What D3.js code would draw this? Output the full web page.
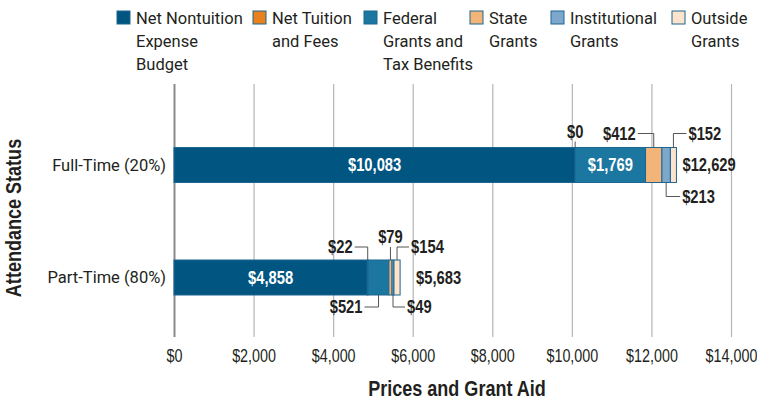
<!DOCTYPE html>
<html>
<head>
<meta charset="utf-8">
<script src="https://cdn.jsdelivr.net/npm/d3@7"></script>
<style>
  body { margin: 0; background: #fff; }
</style>
</head>
<body>
<div id="chart"></div>
<script>
// data
const categories = ["Full-Time (20%)", "Part-Time (80%)"];
const seriesNames = ["Net Nontuition Expense Budget", "Net Tuition and Fees", "Federal Grants and Tax Benefits",
                     "State Grants", "Institutional Grants", "Outside Grants"];
const netNontuition = [10083, 4858];
const netTuition = [0, 22];
const federalGrants = [1769, 521];
const stateGrants = [412, 79];
const institutionalGrants = [213, 49];
const outsideGrants = [152, 154];
const totals = [12629, 5683];
const xTicks = [0, 2000, 4000, 6000, 8000, 10000, 12000, 14000];
const legendLines = [
    ["Net Nontuition", "Expense", "Budget"],
    ["Net Tuition", "and Fees"],
    ["Federal", "Grants and", "Tax Benefits"],
    ["State", "Grants"],
    ["Institutional", "Grants"],
    ["Outside", "Grants"]
];

const width = 757, height = 402;
const colors = ["#005581", "#e8821e", "#1b76a0", "#f3b47a", "#7ea8cb", "#fce3cb"];
const segStroke = "#1d6690";
const numFont = "'Liberation Sans', Arial, sans-serif";
const wordFont = "Roboto, 'DejaVu Sans', sans-serif";
const squeeze = 0.82; // no narrow face installed, so squeeze the regular one

const plotTop = 84, plotBottom = 337;
const barH = 35;

const svg = d3.select("#chart").append("svg")
    .attr("width", width)
    .attr("height", height)
    .attr("viewBox", `0 0 ${width} ${height}`);

const x = d3.scaleLinear().domain([0, 14000]).range([174, 731]);
const y = d3.scalePoint().domain(categories).range([165, 277.5]);

const seriesData = [netNontuition, netTuition, federalGrants, stateGrants, institutionalGrants, outsideGrants];
const rows = categories.map((c, i) => {
    const r = { cat: c };
    seriesNames.forEach((s, j) => r[s] = seriesData[j][i]);
    return r;
});
const stacked = d3.stack().keys(seriesNames)(rows);

const money = v => "$" + d3.format(",")(v);

// condensed number / title text
function narrowText(px, py, txt, opt) {
    opt = opt || {};
    return svg.append("text")
        .attr("transform", `translate(${px},${py}) ${opt.rotate ? "rotate(" + opt.rotate + ")" : ""} scale(${squeeze},1)`)
        .attr("dy", opt.dy || null)
        .attr("text-anchor", opt.anchor || "start")
        .attr("fill", opt.fill || "#231f20")
        .style("font-family", numFont)
        .style("font-weight", opt.weight || "bold")
        .style("font-size", (opt.size || 17) + "px")
        .text(txt);
}

// grid + axis
const xAxis = svg.append("g")
    .attr("transform", `translate(0,${plotBottom})`)
    .call(d3.axisBottom(x).tickValues(xTicks).tickSize(-(plotBottom - plotTop)).tickPadding(13)
        .tickFormat(d => money(d)));
xAxis.select(".domain").remove();
xAxis.selectAll(".tick line")
    .attr("stroke", d => d === 0 ? "#8a8a8a" : "#b5b5b5")
    .attr("stroke-width", d => d === 0 ? 2 : 1.2);
xAxis.selectAll(".tick text")
    .attr("fill", "#231f20")
    .attr("transform", `scale(${squeeze},1)`)
    .style("font-family", numFont)
    .style("font-size", "17.5px");

// category labels
svg.selectAll(".cat")
    .data(categories)
    .enter()
    .append("text")
    .attr("x", 166)
    .attr("y", d => y(d))
    .attr("dy", "0.35em")
    .attr("text-anchor", "end")
    .attr("fill", "#231f20")
    .style("font-family", wordFont)
    .style("font-size", "16.5px")
    .text(d => d);

// bars
stacked.forEach((layer, j) => {
    svg.selectAll(".seg" + j)
        .data(layer)
        .enter()
        .append("rect")
        .attr("x", d => x(d[0]))
        .attr("y", d => y(d.data.cat) - barH / 2)
        .attr("width", d => Math.max(0, x(d[1]) - x(d[0])))
        .attr("height", barH)
        .attr("fill", colors[j])
        .attr("stroke", segStroke)
        .attr("stroke-width", 1);
});

// labels inside the wide segments
stacked.forEach((layer, j) => {
    layer.forEach((d, i) => {
        if (x(d[1]) - x(d[0]) < 45) return;
        narrowText((x(d[0]) + x(d[1])) / 2, y(d.data.cat), money(seriesData[j][i]),
            { anchor: "middle", dy: "0.36em", fill: "#fff", size: 18 });
    });
});

// callouts for the thin segments: side, elbow direction, vertical length, horizontal reach
const callouts = [
    { cat: 0, s: 1, side: "top", dir: "none", len: 6 },
    { cat: 0, s: 3, side: "top", dir: "left", len: 14, reach: 16 },
    { cat: 0, s: 4, side: "bottom", dir: "right", len: 14, reach: 14 },
    { cat: 0, s: 5, side: "top", dir: "right", len: 14, reach: 13 },
    { cat: 1, s: 1, side: "top", dir: "left", len: 13, reach: 13 },
    { cat: 1, s: 2, side: "bottom", dir: "left", len: 12, reach: 14 },
    { cat: 1, s: 3, side: "top", dir: "none", len: 13 },
    { cat: 1, s: 4, side: "bottom", dir: "right", len: 12, reach: 12 },
    { cat: 1, s: 5, side: "top", dir: "right", len: 13, reach: 12 }
];

callouts.forEach(c => {
    const d = stacked[c.s][c.cat];
    const mx = (x(d[0]) + x(d[1])) / 2;
    const cy = y(categories[c.cat]);
    const y0 = c.side === "top" ? cy - barH / 2 : cy + barH / 2;
    const y1 = c.side === "top" ? y0 - c.len : y0 + c.len;
    let pts = [[mx, y0], [mx, y1]];
    let tx = mx, anchor = "middle", ty = y1 - 4;
    if (c.dir === "left") {
        pts.push([mx - c.reach, y1]);
        tx = mx - c.reach - 2; anchor = "end"; ty = y1 + 6;
    } else if (c.dir === "right") {
        pts.push([mx + c.reach, y1]);
        tx = mx + c.reach + 2; anchor = "start"; ty = y1 + 6;
    }
    svg.append("path")
        .attr("d", d3.line()(pts))
        .attr("fill", "none")
        .attr("stroke", "#555")
        .attr("stroke-width", 1);
    narrowText(tx, ty, money(seriesData[c.s][c.cat]), { anchor: anchor, size: 18 });
});

// totals
const totalDx = [6, 16];
totals.forEach((t, i) => {
    narrowText(x(t) + totalDx[i], y(categories[i]), money(t), { dy: "0.36em", size: 18 });
});

// axis titles
narrowText(457, 396, "Prices and Grant Aid", { anchor: "middle", size: 22 });
narrowText(21, 218, "Attendance Status", { anchor: "middle", size: 22, rotate: -90 });

// legend
const legendX = [117, 253, 364, 470, 551, 672];
const legend = svg.append("g");
seriesNames.forEach((s, j) => {
    const item = legend.append("g").attr("transform", `translate(${legendX[j]}, 11)`);
    item.append("rect")
        .attr("width", 13)
        .attr("height", 13)
        .attr("fill", colors[j])
        .attr("stroke", segStroke)
        .attr("stroke-width", 1);
    item.append("text")
        .attr("x", 19)
        .attr("y", 13)
        .attr("fill", "#231f20")
        .style("font-family", wordFont)
        .style("font-size", "16.5px")
        .selectAll("tspan")
        .data(legendLines[j])
        .enter()
        .append("tspan")
        .attr("x", 19)
        .attr("dy", (d, k) => k === 0 ? 0 : 23)
        .text(d => d);
});
</script>
</body>
</html>
